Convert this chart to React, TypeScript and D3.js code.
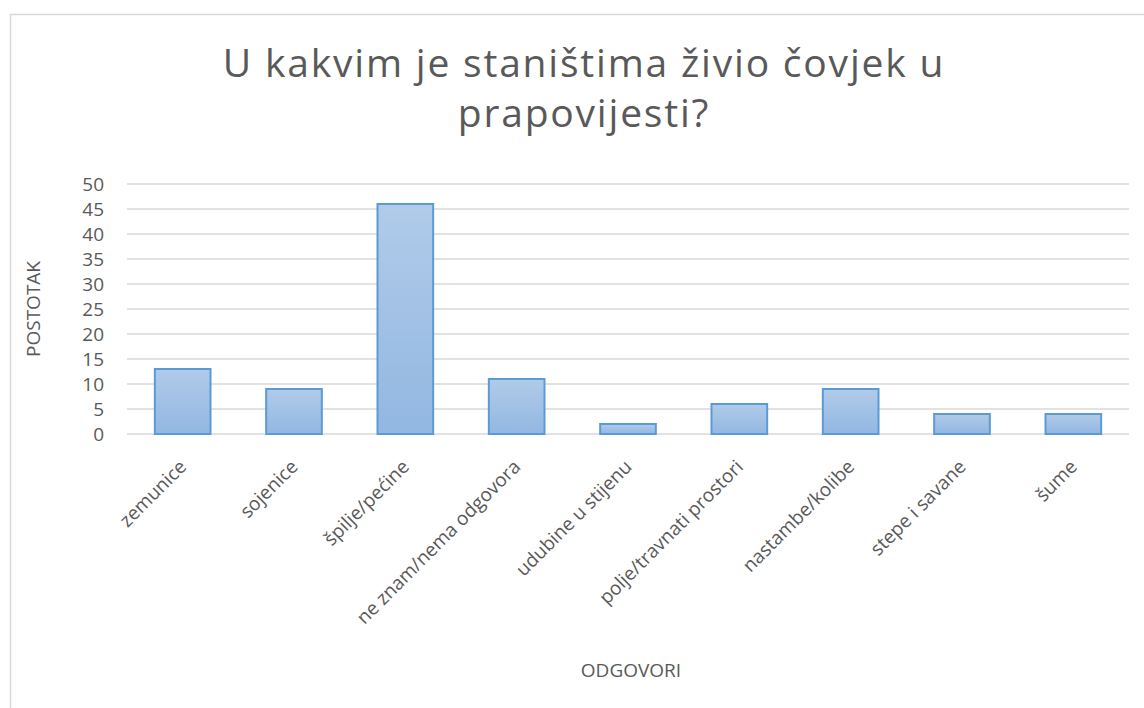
import { useMemo } from 'react';
import { scaleBand, scaleLinear } from 'd3';

const categories = [
  'zemunice',
  'sojenice',
  'špilje/pećine',
  'ne znam/nema odgovora',
  'udubine u stijenu',
  'polje/travnati prostori',
  'nastambe/kolibe',
  'stepe i savane',
  'šume',
];
const values = [13, 9, 46, 11, 2, 6, 9, 4, 4];
const yTicks = [0, 5, 10, 15, 20, 25, 30, 35, 40, 45, 50];
const titleLines = ['U kakvim je staništima živio čovjek u', 'prapovijesti?'];

const W = 1144;
const H = 708;
const font = '"Open Sans", sans-serif';
const textColor = '#595959';

export default function App() {
  const plot = { left: 127, right: 1129, top: 184, bottom: 434 };

  const x = useMemo(
    () => scaleBand<string>().domain(categories).range([plot.left, plot.right]).paddingInner(0.5).paddingOuter(0.25),
    []
  );
  const y = useMemo(() => scaleLinear().domain([0, 50]).range([plot.bottom, plot.top]), []);

  return (
    <div style={{ position: 'fixed', left: 0, top: 0, width: W, height: H, background: '#fff' }}>
      <svg width={W} height={H} style={{ display: 'block' }} fontFamily={font}>
        <defs>
          <linearGradient id="barFill" x1="0" y1="0" x2="0" y2="1">
            <stop offset="0%" stopColor="#b1cbe9" />
            <stop offset="100%" stopColor="#92b7e2" />
          </linearGradient>
        </defs>
        <rect x={10.5} y={14.5} width={1200} height={800} fill="#fff" stroke="#d9d9d9" strokeWidth={1.5} />

        {titleLines.map((line, i) => (
          <text
            key={line}
            x={584}
            y={77 + i * 50}
            textAnchor="middle"
            fontSize={39}
            letterSpacing={1.8}
            fill={textColor}
          >
            {line}
          </text>
        ))}

        {yTicks.map((t) => (
          <g key={t}>
            <line x1={plot.left} x2={plot.right} y1={y(t)} y2={y(t)} stroke="#d9d9d9" strokeWidth={1.5} />
            <text x={104} y={y(t)} dy="0.36em" textAnchor="end" fontSize={19} fill={textColor}>
              {t}
            </text>
          </g>
        ))}

        {categories.map((c, i) => (
          <rect
            key={c}
            x={x(c)}
            y={y(values[i])}
            width={x.bandwidth()}
            height={y(0) - y(values[i])}
            fill="url(#barFill)"
            stroke="#5b9bd5"
            strokeWidth={2}
          />
        ))}

        {categories.map((c) => {
          const cx = (x(c) ?? 0) + x.bandwidth() / 2 + 5;
          const cy = 468;
          return (
            <text
              key={c}
              x={cx}
              y={cy}
              transform={`rotate(-45 ${cx} ${cy})`}
              textAnchor="end"
              fontSize={19}
              fill={textColor}
            >
              {c}
            </text>
          );
        })}

        <text x={40} y={309} transform="rotate(-90 40 309)" textAnchor="middle" fontSize={19} fill={textColor}>
          POSTOTAK
        </text>
        <text x={631} y={677} textAnchor="middle" fontSize={19} fill={textColor}>
          ODGOVORI
        </text>
      </svg>
    </div>
  );
}
